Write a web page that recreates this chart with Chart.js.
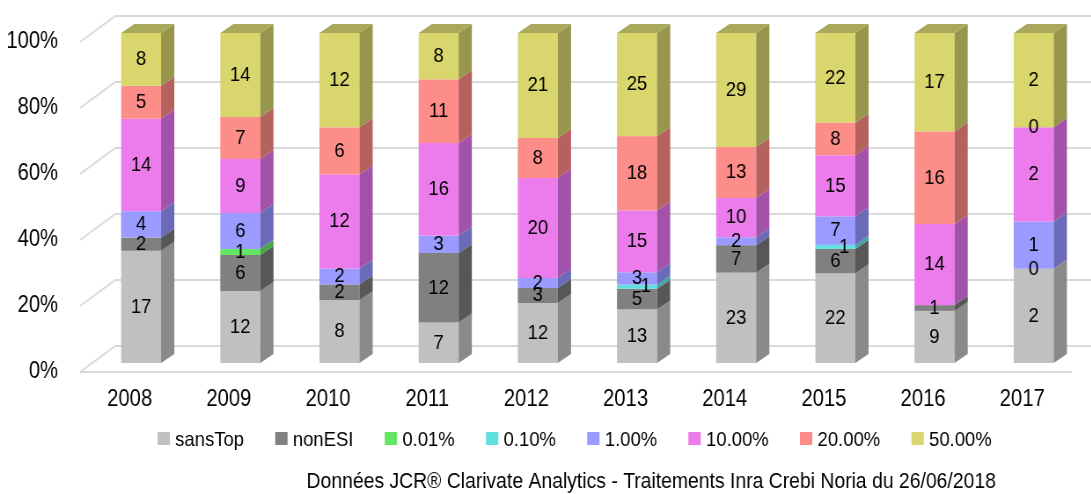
<!DOCTYPE html>
<html>
<head>
<meta charset="utf-8">
<script src="https://cdn.jsdelivr.net/npm/chart.js@4/dist/chart.umd.min.js"></script>
<style>
html, body { margin: 0; padding: 0; background: #fff; overflow: hidden; }
/* the original uses a narrow font; draw wide and squeeze the canvas to get the same look */
#wrap { width: 1240px; height: 494px; position: relative; transform: scaleX(0.88); transform-origin: 0 0; }
</style>
</head>
<body>
<div id="wrap"><canvas id="chart-jcr"></canvas></div>
<script>
'use strict';
let years = ['2008', '2009', '2010', '2011', '2012', '2013', '2014', '2015', '2016', '2017'];
let sansTop = [17, 12, 8, 7, 12, 13, 23, 22, 9, 2];
let nonESI = [2, 6, 2, 12, 3, 5, 7, 6, 1, 0];
let top001 = [null, 1, null, null, null, null, null, null, null, null];
let top010 = [null, null, null, null, null, 1, null, 1, null, null];
let top1 = [4, 6, 2, 3, 2, 3, 2, 7, null, 1];
let top10 = [14, 9, 12, 16, 20, 15, 10, 15, 14, 2];
let top20 = [5, 7, 6, 11, 8, 18, 13, 8, 16, 0];
let top50 = [8, 14, 12, 8, 21, 25, 29, 22, 17, 2];
let yTicks = [0, 20, 40, 60, 80, 100];
let footer = 'Données JCR® Clarivate Analytics - Traitements Inra Crebi Noria du 26/06/2018';

let series = [
    {label: 'sansTop', values: sansTop, front: '#c0c0c0', side: '#8a8a8a', top: '#a8a8a8'},
    {label: 'nonESI', values: nonESI, front: '#808080', side: '#575757', top: '#6a6a6a'},
    {label: '0.01%', values: top001, front: '#63e663', side: '#45a845', top: '#55c455'},
    {label: '0.10%', values: top010, front: '#62e0e0', side: '#44a3a3', top: '#55c0c0', labelDx: 10},
    {label: '1.00%', values: top1, front: '#9a9aff', side: '#6a6ab8', top: '#8080d8'},
    {label: '10.00%', values: top10, front: '#ec7cec', side: '#a252a8', top: '#c866c8'},
    {label: '20.00%', values: top20, front: '#fd8d88', side: '#b5625f', top: '#d87874'},
    {label: '50.00%', values: top50, front: '#d8d66c', side: '#97964c', top: '#aaa85a'},
];

let fontFamily = "'Liberation Sans', Arial, sans-serif";
let barShift = {dx: 13, dy: -9};
let barDepth = {dx: 15, dy: -9};
let wallDepth = {dx: 40, dy: -26};

let totals = years.map((y, i) => series.reduce((sum, s) => sum + (s.values[i] || 0), 0));

let datasets = series.map(s => ({
    label: s.label,
    data: s.values.map((v, i) => v === null ? null : v / totals[i] * 100),
    backgroundColor: s.front,
    borderWidth: 0,
}));

let bars3D = {
    id: 'bars3D',
    beforeDatasetsDraw(chart) {
        let ctx = chart.ctx;
        let area = chart.chartArea;
        let yScale = chart.scales.y;
        ctx.save();

        // side wall + back wall grid, floor edge
        ctx.strokeStyle = '#d9d9d9';
        ctx.lineWidth = 2;
        yTicks.forEach(t => {
            let yf = yScale.getPixelForValue(t);
            ctx.beginPath();
            ctx.moveTo(area.left, yf);
            ctx.lineTo(area.left + wallDepth.dx, yf + wallDepth.dy);
            ctx.lineTo(chart.width + 5, yf + wallDepth.dy);
            ctx.stroke();
        });
        ctx.beginPath();
        ctx.moveTo(area.left, area.bottom);
        ctx.lineTo(area.right, area.bottom);
        ctx.stroke();

        // bars: front, side, top
        let labels = [];
        years.forEach((year, i) => {
            let topFace = null;
            series.forEach((s, d) => {
                let v = s.values[i];
                if (v === null) return;
                let el = chart.getDatasetMeta(d).data[i];
                let left = el.x - el.width / 2 + barShift.dx;
                let right = left + el.width;
                let top = Math.min(el.y, el.base) + barShift.dy;
                let bottom = Math.max(el.y, el.base) + barShift.dy;
                labels.push({text: String(v), x: el.x + barShift.dx + (s.labelDx || 0), y: (top + bottom) / 2});
                if (v === 0) return;

                ctx.fillStyle = s.front;
                ctx.fillRect(left, top, right - left, bottom - top);

                ctx.fillStyle = s.side;
                ctx.beginPath();
                ctx.moveTo(right, bottom);
                ctx.lineTo(right + barDepth.dx, bottom + barDepth.dy);
                ctx.lineTo(right + barDepth.dx, top + barDepth.dy);
                ctx.lineTo(right, top);
                ctx.closePath();
                ctx.fill();

                topFace = {left: left, right: right, top: top, color: s.top};
            });
            if (topFace) {
                ctx.fillStyle = topFace.color;
                ctx.beginPath();
                ctx.moveTo(topFace.left, topFace.top);
                ctx.lineTo(topFace.left + barDepth.dx, topFace.top + barDepth.dy);
                ctx.lineTo(topFace.right + barDepth.dx, topFace.top + barDepth.dy);
                ctx.lineTo(topFace.right, topFace.top);
                ctx.closePath();
                ctx.fill();
            }
        });

        // value labels
        ctx.fillStyle = '#000';
        ctx.font = '21px ' + fontFamily;
        ctx.textAlign = 'center';
        ctx.textBaseline = 'middle';
        labels.forEach(l => ctx.fillText(l.text, l.x, l.y));

        ctx.restore();
        return false;
    },
    afterDraw(chart) {
        let ctx = chart.ctx;
        ctx.save();
        ctx.fillStyle = '#000';
        ctx.textBaseline = 'middle';

        // legend
        ctx.font = '21px ' + fontFamily;
        let box = 14, boxGap = 6, itemGap = 35.5;
        let widths = series.map(s => box + boxGap + ctx.measureText(s.label).width);
        let total = widths.reduce((a, b) => a + b, 0) + itemGap * (series.length - 1);
        let x = 653 - total / 2;
        let y = 439;
        series.forEach((s, i) => {
            ctx.fillStyle = s.front;
            ctx.fillRect(x, y - 7, box, 13);
            ctx.fillStyle = '#000';
            ctx.textAlign = 'left';
            ctx.fillText(s.label, x + box + boxGap, y + 1);
            x += widths[i] + itemGap;
        });

        // source line
        ctx.font = '22px ' + fontFamily;
        ctx.textAlign = 'center';
        ctx.fillText(footer, 740, 482);
        ctx.restore();
    }
};

Chart.defaults.font.family = fontFamily;
Chart.defaults.color = '#000';

new Chart(document.getElementById('chart-jcr'), {
    type: 'bar',
    data: {labels: years, datasets: datasets},
    plugins: [bars3D],
    options: {
        responsive: true,
        maintainAspectRatio: false,
        animation: false,
        layout: {padding: {top: 42, right: 22, bottom: 82, left: 0}},
        datasets: {bar: {categoryPercentage: 1, barPercentage: 0.403}},
        scales: {
            x: {
                stacked: true,
                grid: {display: false, drawTicks: false},
                border: {display: false},
                ticks: {font: {size: 23}, padding: 14},
                afterFit: s => { s.height = 40; }
            },
            y: {
                stacked: true,
                min: 0,
                max: 100,
                grid: {display: false, drawTicks: false},
                border: {display: false},
                ticks: {stepSize: 20, font: {size: 23}, padding: 25, callback: v => v + '%'},
                afterFit: s => { s.width = 91; }
            }
        },
        plugins: {
            legend: {display: false},
            tooltip: {enabled: false}
        }
    }
});
</script>
</body>
</html>
